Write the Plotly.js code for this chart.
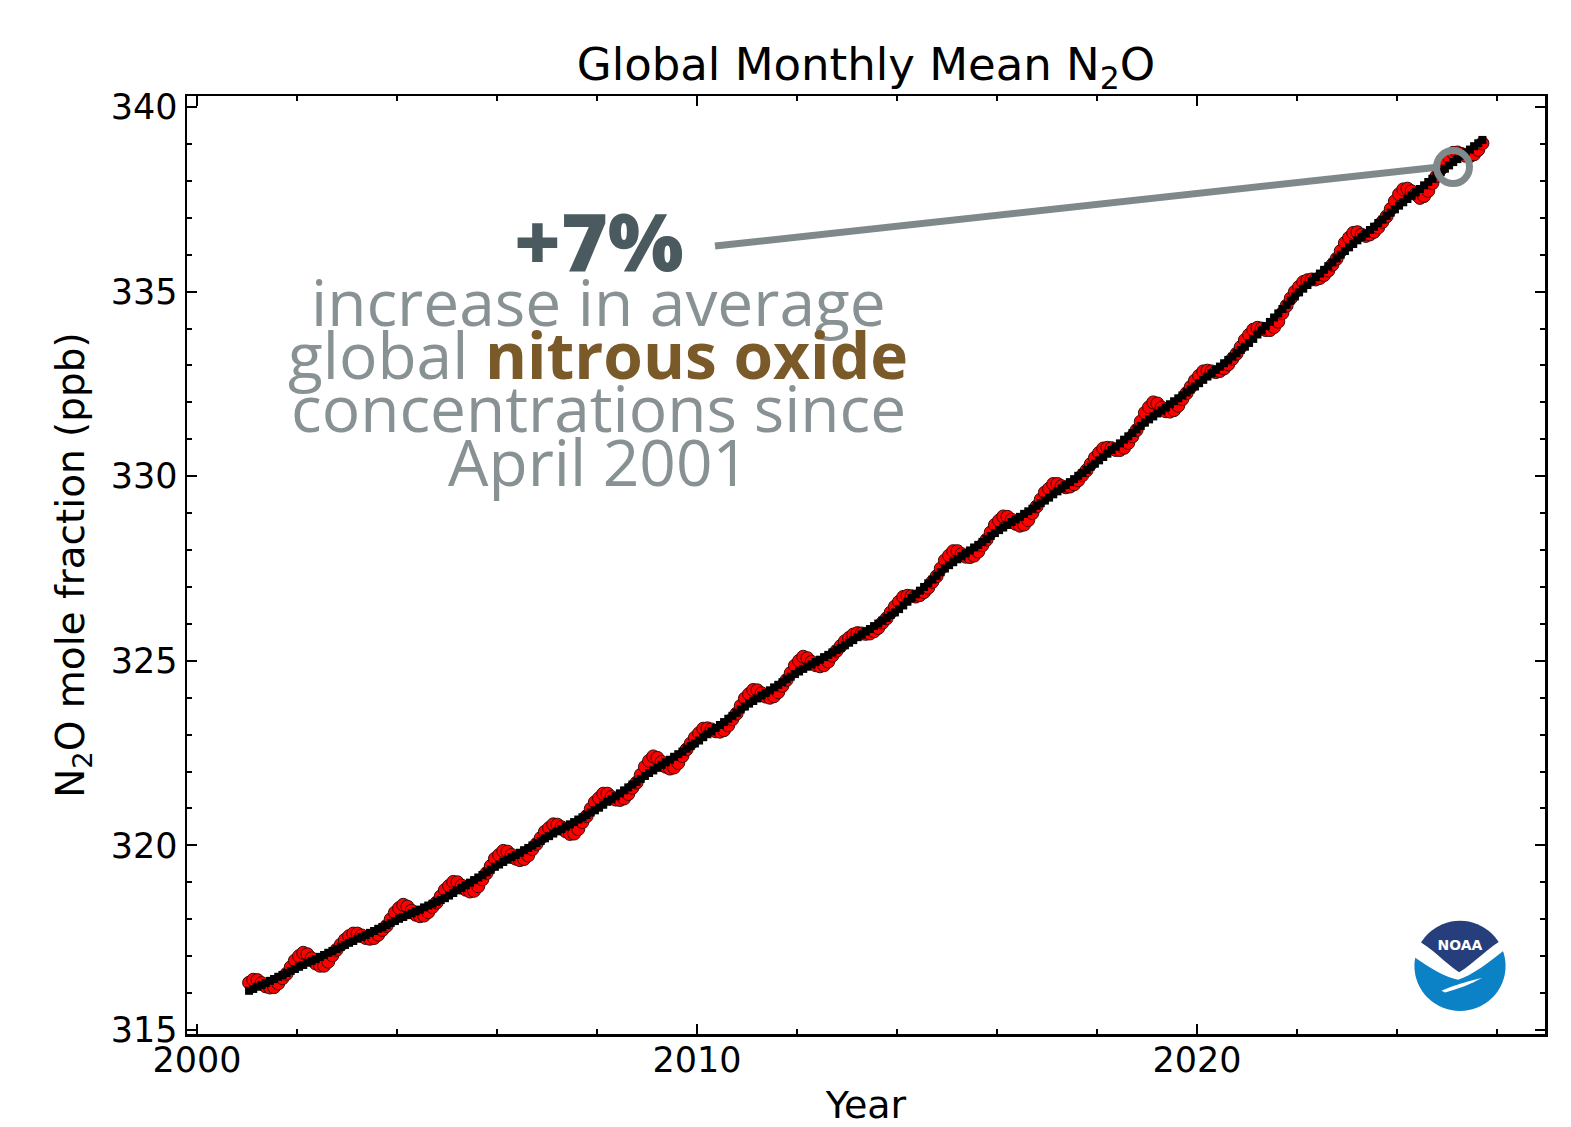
<!DOCTYPE html>
<html>
<head>
<meta charset="utf-8">
<script src="https://cdn.plot.ly/plotly-3.0.1.min.js"></script>
<style>html,body{margin:0;padding:0;background:#fff;}#chart{width:1571px;height:1127px;}</style>
</head>
<body>
<div id="chart"></div>
<script>
// First calendar year of the monthly record (Jan 2001 .. Sep 2025)
const firstYear = 2001;

// Global monthly mean N2O (ppb), red circles, one row per year
const monthlyMean = [
  316.28, 316.36, 316.35, 316.27, 316.18, 316.15, 316.16, 316.26, 316.40, 316.52, 316.70, 316.88,
  317.00, 317.09, 317.05, 316.94, 316.80, 316.74, 316.74, 316.85, 317.02, 317.17, 317.31, 317.44,
  317.54, 317.61, 317.61, 317.56, 317.49, 317.47, 317.49, 317.58, 317.71, 317.82, 318.00, 318.18,
  318.30, 318.39, 318.34, 318.23, 318.12, 318.08, 318.10, 318.19, 318.33, 318.45, 318.62, 318.79,
  318.90, 319.01, 319.00, 318.91, 318.80, 318.75, 318.77, 318.89, 319.08, 319.25, 319.44, 319.64,
  319.74, 319.85, 319.83, 319.74, 319.64, 319.60, 319.63, 319.73, 319.90, 320.04, 320.20, 320.37,
  320.47, 320.57, 320.56, 320.49, 320.38, 320.31, 320.32, 320.44, 320.63, 320.79, 320.99, 321.17,
  321.28, 321.40, 321.40, 321.31, 321.24, 321.23, 321.27, 321.39, 321.56, 321.70, 321.91, 322.13,
  322.29, 322.41, 322.37, 322.26, 322.13, 322.08, 322.11, 322.23, 322.42, 322.60, 322.76, 322.92,
  323.04, 323.16, 323.17, 323.14, 323.09, 323.08, 323.12, 323.25, 323.42, 323.57, 323.78, 323.98,
  324.10, 324.21, 324.20, 324.12, 324.03, 324.00, 324.04, 324.15, 324.32, 324.48, 324.67, 324.87,
  325.00, 325.11, 325.07, 324.97, 324.88, 324.85, 324.88, 324.98, 325.14, 325.27, 325.40, 325.53,
  325.62, 325.71, 325.75, 325.74, 325.73, 325.74, 325.80, 325.89, 326.03, 326.15, 326.31, 326.47,
  326.60, 326.73, 326.76, 326.75, 326.74, 326.78, 326.86, 326.98, 327.14, 327.29, 327.50, 327.72,
  327.85, 327.97, 327.97, 327.89, 327.82, 327.81, 327.85, 327.96, 328.13, 328.28, 328.48, 328.68,
  328.80, 328.91, 328.90, 328.82, 328.71, 328.66, 328.69, 328.81, 329.00, 329.18, 329.37, 329.56,
  329.66, 329.79, 329.79, 329.73, 329.70, 329.72, 329.78, 329.89, 330.03, 330.16, 330.33, 330.50,
  330.63, 330.75, 330.77, 330.76, 330.71, 330.71, 330.77, 330.90, 331.08, 331.25, 331.48, 331.72,
  331.87, 332.00, 331.97, 331.86, 331.76, 331.75, 331.79, 331.91, 332.09, 332.25, 332.42, 332.59,
  332.72, 332.84, 332.86, 332.84, 332.82, 332.85, 332.92, 333.03, 333.18, 333.32, 333.50, 333.69,
  333.83, 333.97, 334.02, 334.00, 333.96, 333.96, 334.04, 334.19, 334.42, 334.62, 334.82, 335.00,
  335.13, 335.26, 335.31, 335.33, 335.33, 335.37, 335.45, 335.57, 335.73, 335.89, 336.10, 336.32,
  336.46, 336.59, 336.61, 336.54, 336.51, 336.55, 336.62, 336.74, 336.89, 337.04, 337.24, 337.45,
  337.64, 337.77, 337.79, 337.72, 337.64, 337.54, 337.59, 337.73, 337.94, 338.13, 338.32, 338.51,
  338.64, 338.76, 338.77, 338.73, 338.68, 338.67, 338.72, 338.84, 339.02
];

// Deseasonalized trend (ppb), black squares, one row per year
const trendValues = [
  316.06, 316.11, 316.17, 316.22, 316.27, 316.33, 316.38, 316.44, 316.49, 316.54, 316.60, 316.65,
  316.71, 316.76, 316.82, 316.87, 316.92, 316.98, 317.03, 317.09, 317.14, 317.19, 317.25, 317.30,
  317.36, 317.41, 317.47, 317.52, 317.57, 317.63, 317.68, 317.74, 317.79, 317.84, 317.90, 317.95,
  318.01, 318.06, 318.11, 318.16, 318.21, 318.26, 318.32, 318.37, 318.42, 318.47, 318.52, 318.57,
  318.64, 318.71, 318.78, 318.85, 318.92, 318.99, 319.06, 319.13, 319.20, 319.27, 319.34, 319.42,
  319.48, 319.55, 319.61, 319.68, 319.74, 319.80, 319.87, 319.93, 320.00, 320.06, 320.12, 320.19,
  320.25, 320.32, 320.38, 320.44, 320.51, 320.57, 320.63, 320.70, 320.76, 320.82, 320.89, 320.95,
  321.02, 321.10, 321.18, 321.25, 321.33, 321.41, 321.49, 321.57, 321.65, 321.72, 321.80, 321.88,
  321.96, 322.03, 322.10, 322.18, 322.25, 322.32, 322.40, 322.47, 322.54, 322.62, 322.69, 322.76,
  322.84, 322.93, 323.01, 323.09, 323.18, 323.26, 323.34, 323.43, 323.51, 323.59, 323.68, 323.76,
  323.84, 323.91, 323.98, 324.06, 324.13, 324.20, 324.28, 324.35, 324.42, 324.50, 324.57, 324.64,
  324.71, 324.78, 324.84, 324.90, 324.97, 325.03, 325.10, 325.16, 325.23, 325.29, 325.35, 325.42,
  325.49, 325.56, 325.64, 325.71, 325.79, 325.86, 325.94, 326.01, 326.09, 326.16, 326.24, 326.31,
  326.40, 326.50, 326.60, 326.70, 326.80, 326.90, 327.00, 327.10, 327.20, 327.30, 327.40, 327.50,
  327.59, 327.67, 327.75, 327.83, 327.91, 327.99, 328.07, 328.14, 328.22, 328.30, 328.38, 328.46,
  328.54, 328.61, 328.68, 328.76, 328.83, 328.90, 328.98, 329.05, 329.12, 329.20, 329.27, 329.34,
  329.42, 329.51, 329.59, 329.67, 329.76, 329.84, 329.92, 330.01, 330.09, 330.17, 330.26, 330.34,
  330.43, 330.52, 330.61, 330.71, 330.80, 330.89, 330.99, 331.08, 331.17, 331.27, 331.36, 331.45,
  331.54, 331.62, 331.70, 331.78, 331.86, 331.95, 332.03, 332.11, 332.19, 332.27, 332.35, 332.43,
  332.52, 332.61, 332.70, 332.79, 332.88, 332.97, 333.06, 333.15, 333.24, 333.33, 333.42, 333.51,
  333.61, 333.72, 333.84, 333.95, 334.07, 334.18, 334.30, 334.41, 334.53, 334.64, 334.76, 334.87,
  334.98, 335.08, 335.18, 335.29, 335.39, 335.49, 335.59, 335.69, 335.79, 335.90, 336.00, 336.10,
  336.20, 336.29, 336.39, 336.48, 336.57, 336.67, 336.76, 336.86, 336.95, 337.05, 337.14, 337.23,
  337.33, 337.42, 337.51, 337.60, 337.69, 337.78, 337.88, 337.97, 338.06, 338.15, 338.24, 338.33,
  338.42, 338.51, 338.59, 338.68, 338.77, 338.85, 338.94, 339.02, 339.11
];

// Axis tick values
const xTickVals = [2000, 2010, 2020];
const yTickVals = [315, 320, 325, 330, 335, 340];

// Callout texts
const calloutBig = "+7%";
const calloutLines = [
  "increase in average",
  "global <b><span style='color:#7b5a2a'>nitrous oxide</span></b>",
  "concentrations since",
  "April 2001"
];
const calloutLineY = [334.72, 333.29, 331.85, 330.41];

// Decimal dates (mid-month)
const decDates = monthlyMean.map((_, i) => firstYear + (i + 0.5) / 12);
const trendDates = trendValues.map((_, i) => firstYear + (i + 0.5) / 12);

const FONT = "DejaVu Sans";
const GRAY = "#7f898b";

const traces = [
  {
    x: decDates, y: monthlyMean, type: "scatter", mode: "markers",
    marker: { symbol: "circle", size: 13, color: "#ff0000", line: { color: "#3a0a0a", width: 1 } },
    hoverinfo: "x+y", showlegend: false
  },
  {
    x: trendDates, y: trendValues, type: "scatter", mode: "markers",
    marker: { symbol: "square", size: 8, color: "#000000", line: { width: 0 } },
    hoverinfo: "x+y", showlegend: false
  }
];

// NOAA logo as inline SVG
const logoSvg = "<svg xmlns='http://www.w3.org/2000/svg' viewBox='0 0 100 100' width='200' height='200'>" +
  "<defs><clipPath id='c'><circle cx='50' cy='50' r='49'/></clipPath></defs>" +
  "<g clip-path='url(#c)'>" +
  "<rect width='100' height='100' fill='#ffffff'/>" +
  "<path d='M0,40 C18,52 34,63 48,65 C62,61 82,46 100,31 L100,100 L0,100 Z' fill='#0b81c6'/>" +
  "<path d='M0,0 L100,0 L100,19 C82,28 64,48 49,57 C35,48 20,30 0,20 Z' fill='#263f7c'/>" +
  "<path d='M30,77 C44,71 58,67 74,63 C62,70 48,75 34,79 Z' fill='#ffffff'/>" +
  "</g>" +
  "<text x='50' y='33' font-family='DejaVu Sans' font-weight='bold' font-size='15' fill='#ffffff' text-anchor='middle'>NOAA</text>" +
  "</svg>";
const logoSrc = "data:image/svg+xml;charset=utf-8," + encodeURIComponent(logoSvg);

const axisCommon = {
  showline: true, linecolor: "#000", linewidth: 2.5, mirror: "allticks",
  ticks: "inside", ticklen: 10, tickwidth: 2, tickcolor: "#000",
  showgrid: false, zeroline: false,
  tickfont: { family: FONT, size: 35, color: "#000" }
};

const layout = {
  width: 1571, height: 1127,
  margin: { l: 187, r: 26, t: 96, b: 93, pad: 0 },
  paper_bgcolor: "#ffffff", plot_bgcolor: "#ffffff",
  font: { family: FONT, color: "#000" },
  showlegend: false,
  title: {
    text: "Global Monthly Mean N<sub>2</sub>O",
    font: { family: FONT, size: 45, color: "#000" },
    x: 0.5, xref: "paper", xanchor: "center",
    y: 1 - 64 / 1127, yref: "container", yanchor: "middle"
  },
  xaxis: Object.assign({}, axisCommon, {
    range: [1999.8, 2026.96],
    tickmode: "array", tickvals: xTickVals, ticktext: xTickVals.map(String),
    ticklabelstandoff: -7,
    minor: { dtick: 2, tick0: 2000, ticks: "inside", ticklen: 5, tickwidth: 2, tickcolor: "#000", showgrid: false },
    title: { text: "Year", font: { family: FONT, size: 38, color: "#000" }, standoff: 16 }
  }),
  yaxis: Object.assign({}, axisCommon, {
    range: [314.89, 340.30],
    tickmode: "array", tickvals: yTickVals, ticktext: yTickVals.map(String),
    minor: { dtick: 1, tick0: 315, ticks: "inside", ticklen: 5, tickwidth: 2, tickcolor: "#000", showgrid: false },
    title: { text: "N<sub>2</sub>O mole fraction (ppb)", font: { family: FONT, size: 39, color: "#000" }, standoff: 14 }
  }),
  shapes: [
    { type: "line", xref: "x", yref: "y", x0: 2010.36, y0: 336.235, x1: 2024.80, y1: 338.37,
      line: { color: GRAY, width: 7 }, layer: "above" },
    { type: "circle", xref: "x", yref: "y", xsizemode: "pixel", ysizemode: "pixel",
      xanchor: 2025.12, yanchor: 338.375, x0: -16.5, x1: 16.5, y0: -16.5, y1: 16.5,
      line: { color: GRAY, width: 7 }, fillcolor: "rgba(0,0,0,0)", layer: "above" }
  ],
  annotations: [
    { text: calloutBig, xref: "x", yref: "y", x: 2008.04, y: 336.42, showarrow: false,
      xanchor: "center", yanchor: "middle",
      font: { family: "Open Sans", size: 80, color: "#4b5a5f", weight: 800 } }
  ].concat(calloutLines.map((t, i) => ({
    text: t, xref: "x", yref: "y", x: 2008.02, y: calloutLineY[i],
    showarrow: false, xanchor: "center", yanchor: "middle",
    font: { family: "Open Sans", size: 64, color: "#889193" }
  }))).concat([
    { text: "2025 Nov 05", xref: "paper", yref: "paper", x: 1.0 + 28 / 1358, y: 0.12,
      showarrow: false, textangle: -90, xanchor: "left", yanchor: "middle",
      font: { family: FONT, size: 13, color: "#9a9a9a" } }
  ]),
  images: [
    { source: logoSrc, xref: "x", yref: "y", x: 2024.33, y: 317.98, sizex: 1.86, sizey: 2.49,
      xanchor: "left", yanchor: "top", sizing: "stretch", layer: "above" }
  ]
};

Plotly.newPlot("chart", traces, layout, { displayModeBar: false, staticPlot: true });
</script>
</body>
</html>
